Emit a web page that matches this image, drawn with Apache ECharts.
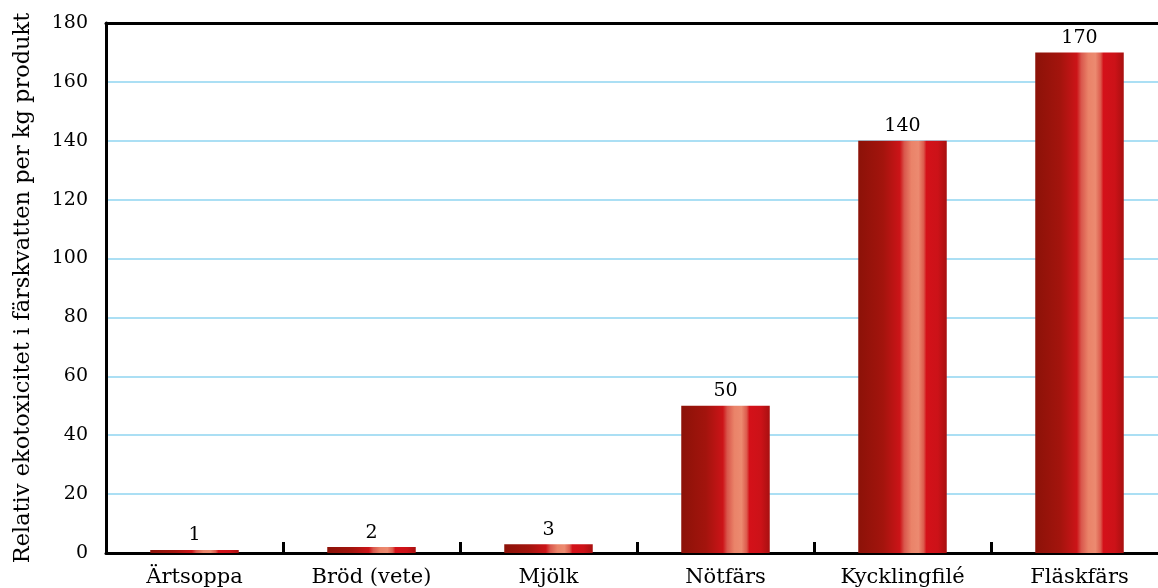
<!DOCTYPE html>
<html>
<head>
<meta charset="utf-8">
<script src="https://cdn.jsdelivr.net/npm/echarts@6/dist/echarts.min.js"></script>
<style>
  html, body { margin: 0; padding: 0; background: #fff; }
  #chart { width: 1158px; height: 588px; }
</style>
</head>
<body>
<div id="chart"></div>
<script>
// Products and their relative freshwater ecotoxicity per kg
const categories = ['Ärtsoppa', 'Bröd (vete)', 'Mjölk', 'Nötfärs', 'Kycklingfilé', 'Fläskfärs'];
const values = [1, 2, 3, 50, 140, 170];
const yTicks = [0, 20, 40, 60, 80, 100, 120, 140, 160, 180];
const yAxisTitle = 'Relativ ekotoxicitet i färskvatten per kg produkt';

const FONT = '"DejaVu Serif", "Liberation Serif", serif';

// Cylinder-like shading across each bar
const barFill = new echarts.graphic.LinearGradient(0, 0, 1, 0, [
  { offset: 0.00, color: '#8c1208' },
  { offset: 0.28, color: '#a3140d' },
  { offset: 0.47, color: '#cc1418' },
  { offset: 0.52, color: '#d9574c' },
  { offset: 0.60, color: '#ea8369' },
  { offset: 0.68, color: '#ec8a70' },
  { offset: 0.74, color: '#dc5a4c' },
  { offset: 0.77, color: '#d41119' },
  { offset: 0.90, color: '#cc1218' },
  { offset: 1.00, color: '#a81010' }
]);

const chart = echarts.init(document.getElementById('chart'), null, { renderer: 'canvas' });

chart.setOption({
  animation: false,
  backgroundColor: '#ffffff',
  grid: { left: 106, right: -10, top: 23, bottom: 35, containLabel: false, outerBoundsMode: 'none' },
  xAxis: [
    {
      type: 'category',
      data: categories,
      position: 'bottom',
      axisLine: { show: true, lineStyle: { color: '#000', width: 3 } },
      axisTick: { show: true, inside: true, length: 11, interval: 0, lineStyle: { color: '#000', width: 3 } },
      axisLabel: { color: '#000', fontFamily: FONT, fontSize: 21, margin: 14, interval: 0 },
      splitLine: { show: false }
    },
    {
      type: 'category',
      data: categories,
      position: 'top',
      axisLine: { show: true, lineStyle: { color: '#000', width: 3 } },
      axisTick: { show: false },
      axisLabel: { show: false }
    }
  ],
  yAxis: {
    type: 'value',
    min: yTicks[0],
    max: yTicks[yTicks.length - 1],
    interval: yTicks[1] - yTicks[0],
    name: yAxisTitle,
    nameLocation: 'middle',
    nameGap: 71,
    nameTextStyle: { color: '#000', fontFamily: FONT, fontSize: 22.5 },
    axisLine: { show: true, lineStyle: { color: '#000', width: 3 } },
    axisTick: { show: false },
    axisLabel: { color: '#000', fontFamily: FONT, fontSize: 19, margin: 18 },
    splitLine: { show: true, lineStyle: { color: '#8fd4f0', width: 1.5 } }
  },
  series: [{
    type: 'bar',
    data: values,
    barWidth: '50%',
    itemStyle: { color: barFill },
    label: {
      show: true,
      position: 'top',
      distance: 5,
      color: '#000',
      fontFamily: FONT,
      fontSize: 19
    }
  }]
});
</script>
</body>
</html>
